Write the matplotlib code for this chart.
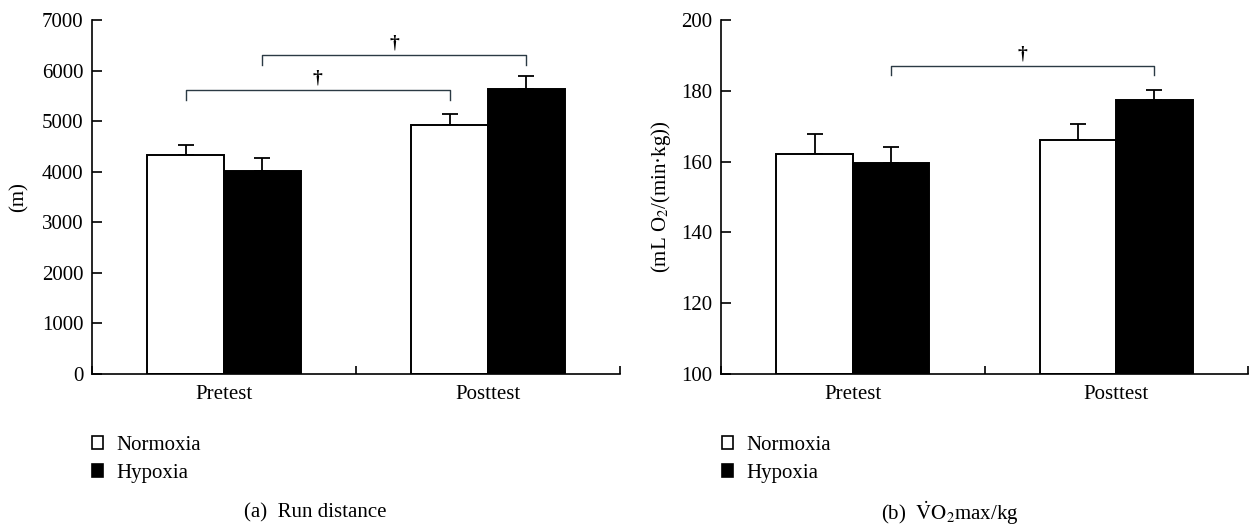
import matplotlib
matplotlib.use('Agg')
import matplotlib.pyplot as plt
from matplotlib.patches import Patch
import numpy as np

plt.rcParams['font.family'] = 'Liberation Serif'
plt.rcParams['mathtext.fontset'] = 'stix'
plt.rcParams['font.size'] = 15

#---------data-----------------
groups = ['Pretest', 'Posttest']
series = ['Normoxia', 'Hypoxia']

run_norm = [4330, 4925]
run_norm_err = [200, 215]
run_hyp = [4015, 5635]
run_hyp_err = [255, 255]

vo2_norm = [162.1, 166.2]
vo2_norm_err = [5.7, 4.4]
vo2_hyp = [159.5, 177.5]
vo2_hyp_err = [4.6, 2.7]

# significance brackets: (group_from, series_from, group_to, series_to, height)
run_sig = [(0, 0, 1, 0, 5620), (0, 1, 1, 1, 6310)]
vo2_sig = [(0, 1, 1, 1, 187.0)]
#------------------------------

bar_w = 0.29
centers = np.array([0.5, 1.5])


def bar_x(g, s):
    return centers[g] - bar_w/2 if s == 0 else centers[g] + bar_w/2


def draw_panel(ax, norm, norm_err, hyp, hyp_err, ymin, ymax, step, sig, tip, dag):
    xn = centers - bar_w/2
    xh = centers + bar_w/2
    ax.bar(xn, np.array(norm)-ymin, bar_w, bottom=ymin, color='white', edgecolor='black', linewidth=1.4, zorder=2)
    ax.bar(xh, np.array(hyp)-ymin, bar_w, bottom=ymin, color='black', edgecolor='black', linewidth=1.4, zorder=2)
    ax.errorbar(xn, norm, yerr=[np.zeros(2), norm_err], fmt='none', ecolor='black', elinewidth=1.3, capsize=6, capthick=1.3, zorder=1)
    ax.errorbar(xh, hyp, yerr=[np.zeros(2), hyp_err], fmt='none', ecolor='black', elinewidth=1.3, capsize=6, capthick=1.3, zorder=1)

    for g0, s0, g1, s1, h in sig:
        x0 = bar_x(g0, s0)
        x1 = bar_x(g1, s1)
        ax.plot([x0, x0, x1, x1], [h-tip, h, h, h-tip], color='#2b3a44', lw=1.0, clip_on=False)
        ax.text((x0+x1)/2, h+dag, '†', ha='center', va='bottom', fontsize=14, fontweight='bold')

    ax.set_xlim(0, 2)
    ax.set_ylim(ymin, ymax)
    ax.set_yticks(np.arange(ymin, ymax+step/2, step))
    ax.set_xticks([0, 1, 2])
    ax.set_xticklabels([])
    ax.set_xticks(centers, minor=True)
    ax.set_xticklabels(groups, minor=True)
    ax.tick_params(axis='x', which='minor', length=0, pad=8)
    ax.tick_params(axis='x', which='major', direction='in', length=6, width=1.2)
    ax.tick_params(axis='y', direction='in', length=7, width=1.2, pad=6)
    for sp in ['top', 'right']:
        ax.spines[sp].set_visible(False)
    for sp in ['left', 'bottom']:
        ax.spines[sp].set_linewidth(1.2)


fig = plt.figure(figsize=(12.5, 5.28), dpi=100)
ax1 = fig.add_axes([0.0736, 0.2917, 0.4224, 0.6703])
ax2 = fig.add_axes([0.5768, 0.2917, 0.4216, 0.6703])

draw_panel(ax1, run_norm, run_norm_err, run_hyp, run_hyp_err, 0, 7000, 1000, run_sig, 200, 60)
draw_panel(ax2, vo2_norm, vo2_norm_err, vo2_hyp, vo2_hyp_err, 100, 200, 20, vo2_sig, 2.5, 0.9)

ax1.set_ylabel('(m)', labelpad=10)
ax2.set_ylabel('(mL O$_2$/(min·kg))', labelpad=6)

handles = [Patch(facecolor='white', edgecolor='black', linewidth=1.2, label=series[0]),
           Patch(facecolor='black', edgecolor='black', linewidth=1.2, label=series[1])]
for xl in [0.0736, 0.5776]:
    fig.legend(handles=handles, loc='upper left', bbox_to_anchor=(xl, 0.175), frameon=False,
               borderpad=0, borderaxespad=0, handlelength=0.55, handleheight=0.55,
               handletextpad=0.6, labelspacing=0.45, fontsize=15)

fig.text(0.252, 0.028, '(a)  Run distance', ha='center', va='center', fontsize=15)
fig.text(0.76, 0.028, r'(b)  $\dot{\mathrm{V}}\mathrm{O}_2$max/kg', ha='center', va='center', fontsize=15)

plt.savefig('out.png', dpi=100)
